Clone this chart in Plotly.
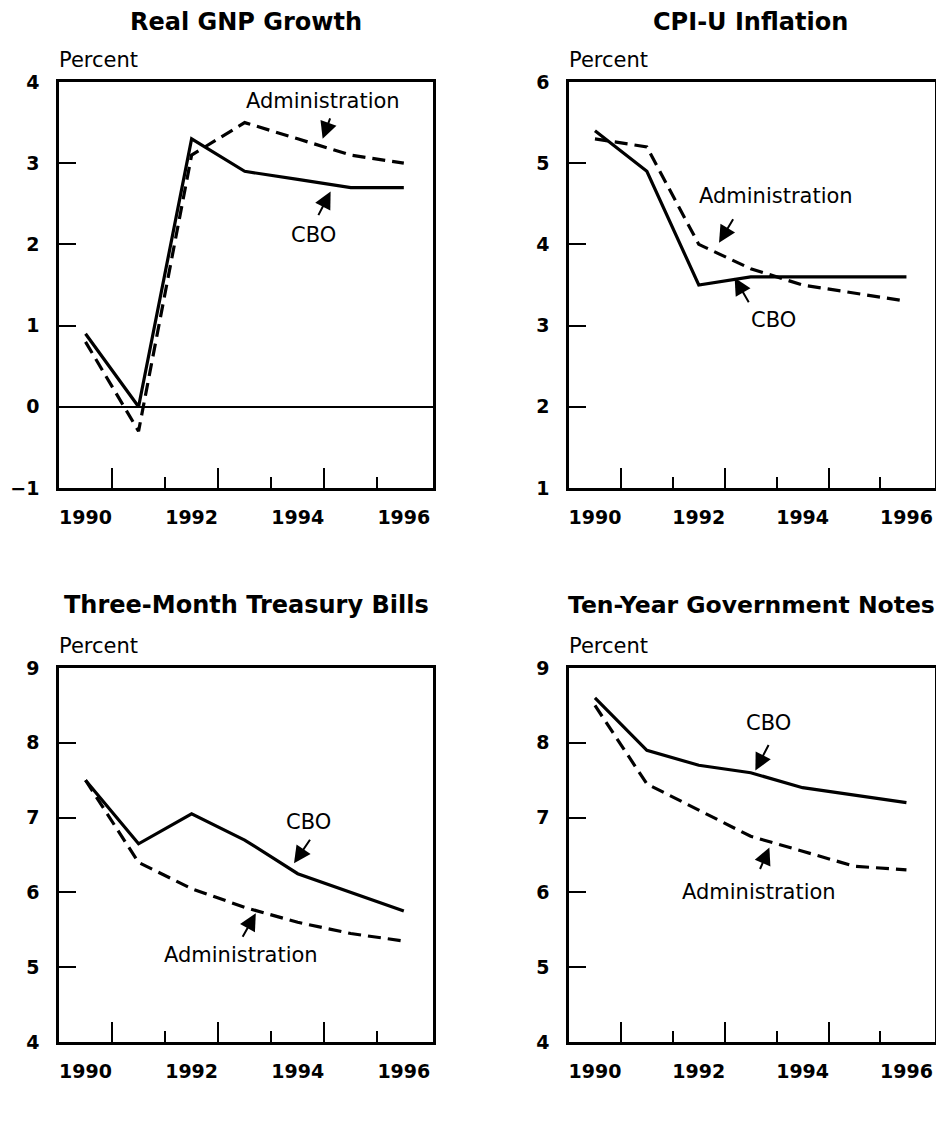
import plotly.graph_objects as go

years = [1990, 1991, 1992, 1993, 1994, 1995, 1996]

gnp_cbo = [0.9, 0.0, 3.3, 2.9, 2.8, 2.7, 2.7]
gnp_admin = [0.8, -0.3, 3.1, 3.5, 3.3, 3.1, 3.0]
cpi_cbo = [5.4, 4.9, 3.5, 3.6, 3.6, 3.6, 3.6]
cpi_admin = [5.3, 5.2, 4.0, 3.7, 3.5, 3.4, 3.3]
tbill_cbo = [7.5, 6.65, 7.05, 6.7, 6.25, 6.0, 5.75]
tbill_admin = [7.5, 6.4, 6.05, 5.8, 5.6, 5.45, 5.35]
note_cbo = [8.6, 7.9, 7.7, 7.6, 7.4, 7.3, 7.2]
note_admin = [8.5, 7.45, 7.1, 6.75, 6.55, 6.35, 6.3]

titles = ["Real GNP Growth", "CPI-U Inflation",
          "Three-Month Treasury Bills", "Ten-Year Government Notes"]
cbo_series = [gnp_cbo, cpi_cbo, tbill_cbo, note_cbo]
admin_series = [gnp_admin, cpi_admin, tbill_admin, note_admin]
y_ranges = [[-1, 4], [1, 6], [4, 9], [4, 9]]
x_labels = [1990, 1992, 1994, 1996]
long_ticks = [1990.5, 1992.5, 1994.5]
short_ticks = [1991.5, 1993.5, 1995.5]
y_unit = "Percent"

# series label positions and arrows (head x, head y, tail dx px, tail dy px)
admin_label = [(1994.47, 3.76), (1993.48, 4.59), (1992.93, 5.16), (1993.16, 6.0)]
admin_arrow = [(1994.47, 3.30, 8, -22), (1992.39, 4.02, 15, -25),
               (1993.21, 5.72, -14, 25), (1993.36, 6.60, -10, 23)]
cbo_label = [(1994.30, 2.11), (1993.43, 3.07), (1994.21, 6.94), (1993.34, 8.26)]
cbo_arrow = [(1994.62, 2.65, -13, 25), (1992.69, 3.59, 15, 26),
             (1993.93, 6.39, 17, -25), (1993.09, 7.63, 14, -27)]

# page body adds an 8px margin; size the figure so the page needs no scrollbar
OFF = 8
W, H = 944 - OFF, 1100


def px_x(v):
    return (v - OFF) / W


def px_y(v):
    return 1 - (v - OFF) / H


x_domains = [[px_x(59), px_x(433)], [px_x(569), px_x(935)]]
y_domains = [[px_y(488), px_y(82)], [px_y(1042), px_y(668)]]
title_pos = [(246, 22), (750, 22), (247, 605), (751, 605)]
title_size = [24, 24, 24, 23.5]
x_range = [1989.5, 1996.55]

FONT = "DejaVu Sans"
fig = go.Figure()
annotations = []

for i in range(4):
    n = i + 1
    xa = "x" if n == 1 else f"x{n}"
    ya = "y" if n == 1 else f"y{n}"
    fig.add_trace(go.Scatter(x=years, y=cbo_series[i], mode="lines",
                             line=dict(color="black", width=3.2),
                             xaxis=xa, yaxis=ya, showlegend=False, name="CBO"))
    fig.add_trace(go.Scatter(x=years, y=admin_series[i], mode="lines",
                             line=dict(color="black", width=3.2, dash="13px,7px"),
                             xaxis=xa, yaxis=ya, showlegend=False, name="Administration"))
    xd = x_domains[i % 2]
    yd = y_domains[i // 2]
    xkey = "xaxis" if n == 1 else f"xaxis{n}"
    ykey = "yaxis" if n == 1 else f"yaxis{n}"
    fig.layout[xkey] = dict(
        domain=xd, anchor=ya, range=x_range, showgrid=False, zeroline=False,
        automargin=False,
        showline=True, mirror=True, linecolor="black", linewidth=2.5,
        tickmode="array", tickvals=x_labels, ticktext=[str(v) for v in x_labels],
        ticks="", ticklabelstandoff=10,
        tickfont=dict(family=FONT, size=19, color="black", weight="bold"),
        minor=dict(tickmode="array", tickvals=long_ticks, ticks="inside",
                   ticklen=20, tickwidth=2, tickcolor="black", showgrid=False),
    )
    fig.layout[ykey] = dict(
        domain=yd, anchor=xa, range=y_ranges[i], showgrid=False,
        automargin=False,
        zeroline=(i == 0), zerolinecolor="black", zerolinewidth=1.6,
        showline=True, mirror=True, linecolor="black", linewidth=2.5,
        tickmode="linear", tick0=y_ranges[i][0], dtick=1,
        ticks="inside", ticklen=17, tickwidth=2, tickcolor="black",
        ticklabelstandoff=13,
        tickfont=dict(family=FONT, size=19, color="black", weight="bold"),
    )
    # overlay axis carrying the short ticks
    on = n + 4
    fig.layout[f"xaxis{on}"] = dict(
        overlaying=xa, anchor=ya, range=x_range, showgrid=False, zeroline=False,
        automargin=False,
        showline=False, showticklabels=False, tickmode="array",
        tickvals=short_ticks, ticks="inside", ticklen=11, tickwidth=2,
        tickcolor="black", side="bottom",
    )
    fig.add_trace(go.Scatter(x=[], y=[], xaxis=f"x{on}", yaxis=ya,
                             showlegend=False, hoverinfo="skip"))

    # title
    tx, ty = title_pos[i]
    annotations.append(dict(
        text=f"<b>{titles[i]}</b>", xref="paper", yref="paper",
        x=px_x(tx), y=px_y(ty), xanchor="center", yanchor="middle",
        showarrow=False, font=dict(family=FONT, size=title_size[i], color="black")))
    # Percent
    annotations.append(dict(
        text=y_unit, xref=f"{xa} domain", yref=f"{ya} domain", x=0, y=1,
        xanchor="left", yanchor="bottom", yshift=8, xshift=-2, showarrow=False,
        font=dict(family=FONT, size=21, color="black")))
    # series labels
    for (lx, ly), txt in [(admin_label[i], "Administration"), (cbo_label[i], "CBO")]:
        annotations.append(dict(
            text=txt, xref=xa, yref=ya, x=lx, y=ly, xanchor="center",
            yanchor="middle", showarrow=False,
            font=dict(family=FONT, size=21, color="black")))
    for hx, hy, ax, ay in [admin_arrow[i], cbo_arrow[i]]:
        annotations.append(dict(
            text="", xref=xa, yref=ya, x=hx, y=hy, ax=ax, ay=ay,
            showarrow=True, arrowhead=2, arrowsize=1.7, arrowwidth=2,
            arrowcolor="black"))

fig.update_layout(
    width=W, height=H, margin=dict(l=0, r=0, t=0, b=0, autoexpand=False),
    paper_bgcolor="white", plot_bgcolor="white",
    annotations=annotations, showlegend=False,
)

fig.write_html("out.html")
